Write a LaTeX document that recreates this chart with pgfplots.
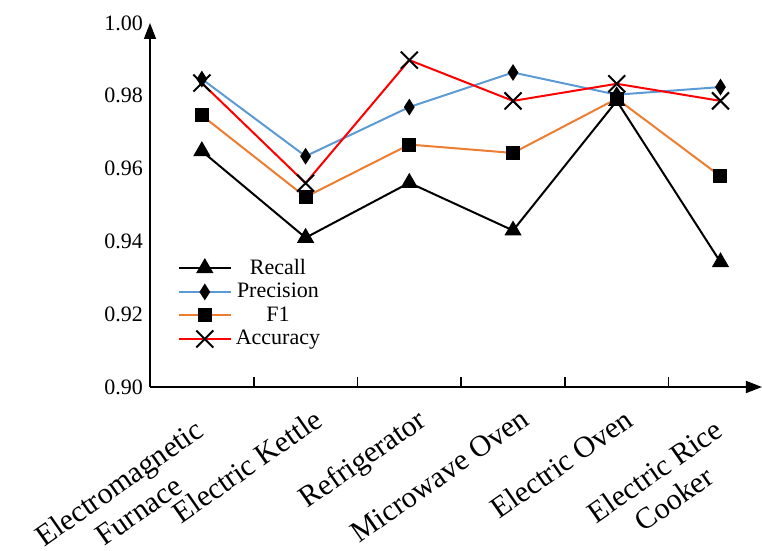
\documentclass[border=0pt]{standalone}
\usepackage{pgfplots}
\pgfplotsset{compat=1.18}
\usepackage{fontspec}
\setmainfont{Liberation Serif}
\usetikzlibrary{arrows.meta,calc}
\definecolor{cblue}{RGB}{91,155,213}
\definecolor{corange}{RGB}{237,125,49}
\definecolor{cred}{RGB}{255,0,0}
\begin{document}
\begin{tikzpicture}
\begin{axis}[
  name=ax,
  scale only axis,
  width=306pt, height=182pt,
  xmin=-0.5, xmax=5.4,
  ymin=0.90, ymax=1.00,
  axis x line=bottom, axis y line=left,
  axis line style={line width=0.8pt,-{Triangle[width=6pt,length=8pt]}},
  xtick={0,...,5},
  xticklabels={{Electromagnetic\\Furnace},{Electric Kettle},{Refrigerator},{Microwave Oven},{Electric Oven},{Electric Rice\\Cooker}},
  x tick label style={rotate=35, anchor=north east, align=center, font=\fontsize{15}{17}\selectfont, inner sep=1pt, yshift=-9pt, xshift={ifthenelse(\ticknum==0||\ticknum==5,-11pt,-2pt)}},
  major x tick style={draw=none},
  minor xtick={0.5,1.5,2.5,3.5,4.5},
  minor tick length=5pt,
  tick align=inside,
  minor x tick style={draw=black, line width=0.8pt},
  ytick={0.90,0.92,0.94,0.96,0.98,1.00},
  ytick style={draw=none},
  yticklabel style={/pgf/number format/.cd, fixed, fixed zerofill, precision=2, /tikz/.cd, font=\fontsize{11}{12}\selectfont},
  /pgf/number format/assume math mode=true,
  legend style={draw=none, fill=none, at={(0.035,0.375)}, anchor=north west, font=\fontsize{11}{12}\selectfont, row sep=-1pt, legend cell align=center},
  legend image code/.code={\draw[mark repeat=2,mark phase=2] plot coordinates {(0pt,0pt) (13pt,0pt) (26pt,0pt)};},
  every axis plot/.append style={line width=1pt},
  clip=false,
]
\addplot[black, mark=triangle*, mark size=4pt, mark options={solid}] coordinates {(0,0.9648) (1,0.9410) (2,0.9561) (3,0.9430) (4,0.9786) (5,0.9343)};
\addlegendentry{Recall}
\addplot[cblue, mark=diamond*, mark size=3.3pt, mark options={black, fill=black, xscale=0.85}] coordinates {(0,0.9846) (1,0.9634) (2,0.9769) (3,0.9864) (4,0.9803) (5,0.9824)};
\addlegendentry{Precision}
\addplot[corange, mark=square*, mark size=3pt, mark options={black, fill=black}] coordinates {(0,0.9746) (1,0.9522) (2,0.9666) (3,0.9643) (4,0.9792) (5,0.9579)};
\addlegendentry{F1}
\addplot[cred, mark=x, mark size=6pt, mark options={black, line width=1pt}] coordinates {(0,0.9835) (1,0.9560) (2,0.9898) (3,0.9786) (4,0.9833) (5,0.9786)};
\addlegendentry{Accuracy}
\end{axis}
\pgfresetboundingbox
\useasboundingbox ($(ax.south west)+(-75pt,-82pt)$) rectangle ++(381pt,275.5pt);
\end{tikzpicture}
\end{document}
